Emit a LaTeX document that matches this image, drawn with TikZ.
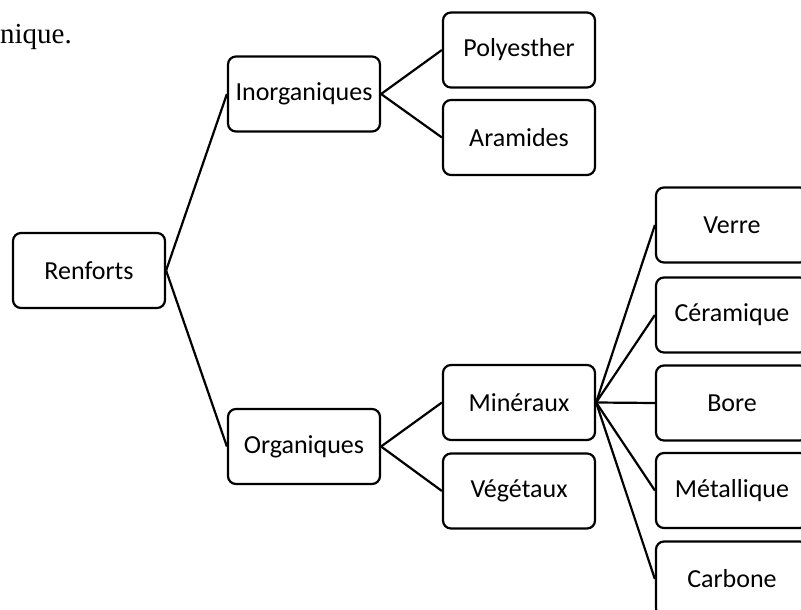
\documentclass[tikz,border=0pt]{standalone}
\usepackage{fontspec}
\setmainfont{Carlito}
\newfontfamily\timesfont{Liberation Serif}
\begin{document}
\begin{tikzpicture}[x=1pt,y=-1pt,
  box/.style={draw, line width=2.2pt, rounded corners=8pt, minimum width=152pt, minimum height=75pt, inner sep=0pt, font=\fontsize{26}{30}\selectfont},
  link/.style={line width=2.2pt}]
\useasboundingbox (0,0) rectangle (801,610);
\clip (0,0) rectangle (801,610);
\node[anchor=base east, inner sep=0pt, font=\timesfont\fontsize{29}{33}\selectfont] (txt) at (72,44) {nique.};
\node[box] (ren) at (89,270.5) {Renforts};
\node[box] (inorg) at (304,94) {Inorganiques};
\node[box] (org) at (304,446.5) {Organiques};
\node[box] (poly) at (519,50) {Polyesther};
\node[box] (ara) at (519,137.5) {Aramides};
\node[box] (min) at (519,402.5) {Minéraux};
\node[box] (veg) at (519,491) {Végétaux};
\node[box] (verre) at (732,225) {Verre};
\node[box] (cer) at (732,315) {Céramique};
\node[box] (bore) at (732,403) {Bore};
\node[box] (met) at (732,490.5) {Métallique};
\node[box] (carb) at (732,579) {Carbone};
\draw[link] (ren.east) -- (inorg.west);
\draw[link] (ren.east) -- (org.west);
\draw[link] (inorg.east) -- (poly.west);
\draw[link] (inorg.east) -- (ara.west);
\draw[link] (org.east) -- (min.west);
\draw[link] (org.east) -- (veg.west);
\draw[link] (min.east) -- (verre.west);
\draw[link] (min.east) -- (cer.west);
\draw[link] (min.east) -- (bore.west);
\draw[link] (min.east) -- (met.west);
\draw[link] (min.east) -- (carb.west);
\end{tikzpicture}
\end{document}
